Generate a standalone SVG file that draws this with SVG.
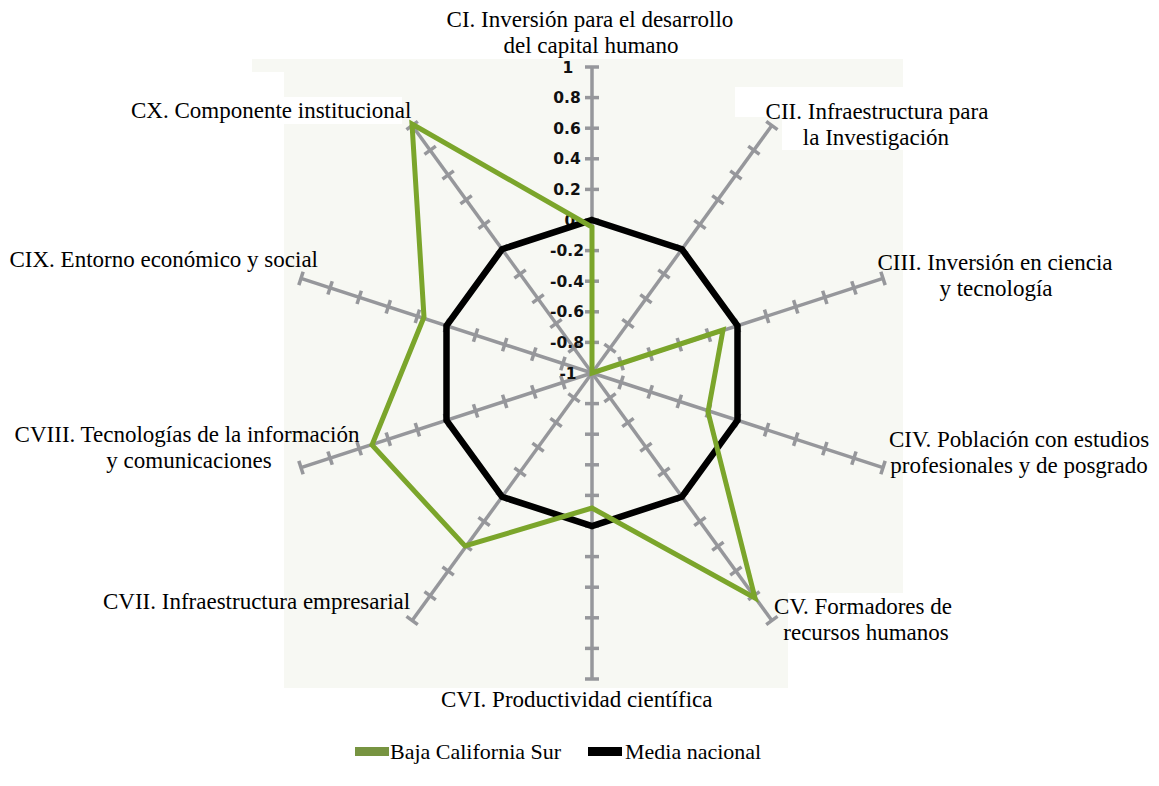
<svg xmlns="http://www.w3.org/2000/svg" xmlns:xlink="http://www.w3.org/1999/xlink" width="1159" height="786" viewBox="0 0 1159 786">
  <style>
    .lbl { font-family: "Liberation Serif", "Times New Roman", serif; font-size: 23px; fill: #000; }
    .mid { text-anchor: middle; }
    .val { font-family: "DejaVu Sans", Verdana, sans-serif; font-weight: bold; font-size: 15.5px; text-anchor: middle; fill: #111; }
    .axis line { stroke: #96979b; stroke-width: 3.5; stroke-linecap: butt; }
    .series { fill: none; stroke-linejoin: miter; }
    .legend { font-family: "Liberation Serif", "Times New Roman", serif; font-size: 22px; fill: #000; }
  </style>
  <defs>
    <!-- one spoke: value -1 at the centre, +1 at the rim, a crossbar every 0.2 -->
    <g id="spoke" class="axis">
      <line x1="592" y1="373" x2="592" y2="67"/>
      <line x1="585" y1="342.4" x2="599" y2="342.4"/>
      <line x1="585" y1="311.8" x2="599" y2="311.8"/>
      <line x1="585" y1="281.2" x2="599" y2="281.2"/>
      <line x1="585" y1="250.6" x2="599" y2="250.6"/>
      <line x1="585" y1="220" x2="599" y2="220"/>
      <line x1="585" y1="189.4" x2="599" y2="189.4"/>
      <line x1="585" y1="158.8" x2="599" y2="158.8"/>
      <line x1="585" y1="128.2" x2="599" y2="128.2"/>
      <line x1="585" y1="97.6" x2="599" y2="97.6"/>
      <line x1="585" y1="67" x2="599" y2="67"/>
    </g>
  </defs>

  <rect width="1159" height="786" fill="#ffffff"/>

  <!-- plot area -->
  <g id="plot-area">
    <rect x="284" y="59" width="619" height="629" fill="#f7f8f3"/>
    <rect x="252" y="59" width="32" height="13" fill="#f7f8f3"/>
    <!-- label backings -->
    <rect x="735" y="87" width="168" height="30" fill="#ffffff"/>
    <rect x="782" y="117" width="121" height="33" fill="#ffffff"/>
    <rect x="788" y="593" width="115" height="95" fill="#ffffff"/>
    <rect x="284" y="97" width="118" height="27" fill="#ffffff"/>
  </g>

  <!-- spokes -->
  <g id="axes">
    <use xlink:href="#spoke"/>
    <use xlink:href="#spoke" transform="rotate(36 592 373)"/>
    <use xlink:href="#spoke" transform="rotate(72 592 373)"/>
    <use xlink:href="#spoke" transform="rotate(108 592 373)"/>
    <use xlink:href="#spoke" transform="rotate(144 592 373)"/>
    <use xlink:href="#spoke" transform="rotate(180 592 373)"/>
    <use xlink:href="#spoke" transform="rotate(216 592 373)"/>
    <use xlink:href="#spoke" transform="rotate(252 592 373)"/>
    <use xlink:href="#spoke" transform="rotate(288 592 373)"/>
    <use xlink:href="#spoke" transform="rotate(324 592 373)"/>
  </g>

  <!-- scale values -->
  <g id="scale">
    <text class="val" x="568" y="72.5">1</text>
    <text class="val" x="567" y="103.1">0.8</text>
    <text class="val" x="567" y="133.7">0.6</text>
    <text class="val" x="567" y="164.3">0.4</text>
    <text class="val" x="567" y="194.9">0.2</text>
    <text class="val" x="570" y="225.5">0</text>
    <text class="val" x="567" y="256.1">-0.2</text>
    <text class="val" x="567" y="286.7">-0.4</text>
    <text class="val" x="567" y="317.3">-0.6</text>
    <text class="val" x="567" y="347.9">-0.8</text>
    <text class="val" x="568" y="378.5">-1</text>
  </g>

  <!-- data series -->
  <g id="connectors">
    <polygon id="media-nacional" class="series" stroke="#000000" stroke-width="6.5"
      points="592,220 681.9,249.2 737.5,325.7 737.5,420.3 681.9,496.8 592,526 502.1,496.8 446.5,420.3 446.5,325.7 502.1,249.2"/>
    <polygon id="baja-california-sur" class="series" stroke="#7ba52b" stroke-width="5"
      points="592,227 592,373 723,330 708,412 755,598 592,508 465,546 372,445 424,317 412,124"/>
  </g>

  <!-- category labels -->
  <g id="node-CI">
    <text class="lbl mid" x="590" y="27">CI. Inversión para el desarrollo</text>
    <text class="lbl mid" x="591" y="53">del capital humano</text>
  </g>
  <g id="node-CII">
    <text class="lbl mid" x="877" y="119">CII. Infraestructura para</text>
    <text class="lbl mid" x="876" y="145">la Investigación</text>
  </g>
  <g id="node-CIII">
    <text class="lbl mid" x="995" y="270">CIII. Inversión en ciencia</text>
    <text class="lbl mid" x="996" y="296">y tecnología</text>
  </g>
  <g id="node-CIV">
    <text class="lbl mid" x="1019" y="447">CIV. Población con estudios</text>
    <text class="lbl mid" x="1019" y="473">profesionales y de posgrado</text>
  </g>
  <g id="node-CV">
    <text class="lbl mid" x="863" y="614">CV. Formadores de</text>
    <text class="lbl mid" x="866" y="640">recursos humanos</text>
  </g>
  <g id="node-CVI">
    <text class="lbl" x="441" y="707">CVI. Productividad científica</text>
  </g>
  <g id="node-CVII">
    <text class="lbl" x="103" y="609">CVII. Infraestructura empresarial</text>
  </g>
  <g id="node-CVIII">
    <text class="lbl mid" x="187" y="442">CVIII. Tecnologías de la información</text>
    <text class="lbl mid" x="189" y="468">y comunicaciones</text>
  </g>
  <g id="node-CIX">
    <text class="lbl" x="318" y="267" text-anchor="end">CIX. Entorno económico y social</text>
  </g>
  <g id="node-CX">
    <text class="lbl" x="131" y="118">CX. Componente institucional</text>
  </g>

  <!-- legend -->
  <g id="legend">
    <rect x="355" y="747" width="34" height="9" fill="#779441"/>
    <text class="legend" x="390" y="759">Baja California Sur</text>
    <rect x="588" y="747" width="34" height="9" fill="#000000"/>
    <text class="legend" x="625" y="759">Media nacional</text>
  </g>
</svg>
